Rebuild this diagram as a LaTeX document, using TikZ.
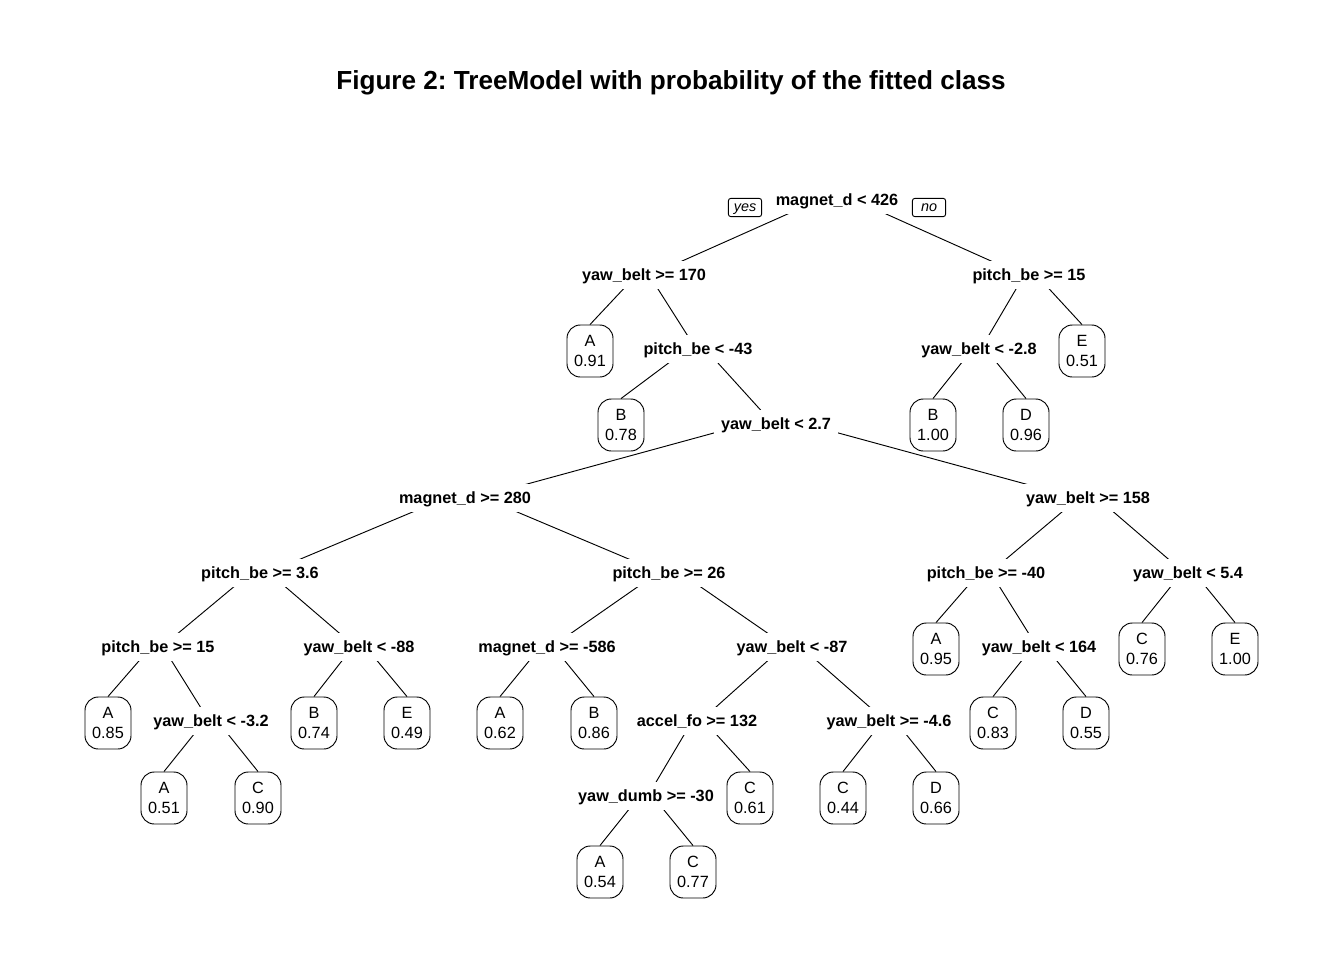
\documentclass[tikz,border=0pt]{standalone}
\usepackage{fontspec}
\setmainfont{Liberation Sans}
\frenchspacing
\pgfdeclarelayer{paper}
\pgfdeclarelayer{background}
\pgfsetlayers{paper,background,main}
\begin{document}
\begin{tikzpicture}[x=0.75pt,y=-0.75pt,
  split/.style={fill=white, inner xsep=5pt, inner ysep=0pt, minimum height=21pt,
    text height=8.8pt, text depth=0pt, font=\fontsize{12.2pt}{14pt}\selectfont\bfseries},
  leaf/.style={draw, rounded corners=10pt, fill=white, minimum width=34.5pt,
    minimum height=39pt, inner sep=0pt, align=center, line width=0.7pt,
    font=\fontsize{12.2pt}{14.5pt}\selectfont},
  tag/.style={draw, rounded corners=2pt, inner xsep=3pt, inner ysep=2pt,
    minimum width=25pt, text height=7.6pt, text depth=2.2pt, line width=0.7pt,
    font=\fontsize{10.8pt}{12pt}\selectfont\itshape},
  edge/.style={line width=0.7pt}]
\begin{pgfonlayer}{paper}
\fill[white] (0,0) rectangle (1344,960);
\end{pgfonlayer}
\useasboundingbox (0,0) rectangle (1344,960);

\node[anchor=base, font=\fontsize{19.6pt}{22pt}\selectfont\bfseries] (title) at (671,89.4)
  {Figure 2: TreeModel with probability of the fitted class};

% split nodes
\node[split] (root) at (837,200) {magnet\_d < 426};
\node[tag] (yes) at (745,207.5) {yes};
\node[tag] (no) at (929,207.5) {no};
\node[split] (n2) at (644,275) {yaw\_belt >= 170};
\node[split] (n3) at (1029,275) {pitch\_be >= 15};
\node[split] (n5) at (698,349) {pitch\_be < -43};
\node[split] (n6) at (979,349) {yaw\_belt < -2.8};
\node[split] (n11) at (776,424) {yaw\_belt < 2.7};
\node[split] (n22) at (465,498) {magnet\_d >= 280};
\node[split] (n23) at (1088,498) {yaw\_belt >= 158};
\node[split] (n44) at (260,573) {pitch\_be >= 3.6};
\node[split] (n45) at (669,573) {pitch\_be >= 26};
\node[split] (n46) at (986,573) {pitch\_be >= -40};
\node[split] (n47) at (1188,573) {yaw\_belt < 5.4};
\node[split] (n88) at (158,647) {pitch\_be >= 15};
\node[split] (n89) at (359,647) {yaw\_belt < -88};
\node[split] (n90) at (547,647) {magnet\_d >= -586};
\node[split] (n91) at (792,647) {yaw\_belt < -87};
\node[split] (n93) at (1039,647) {yaw\_belt < 164};
\node[split] (n177) at (211,721) {yaw\_belt < -3.2};
\node[split] (n182) at (697,721) {accel\_fo >= 132};
\node[split] (n183) at (889,721) {yaw\_belt >= -4.6};
\node[split] (n364) at (646,796) {yaw\_dumb >= -30};

% leaves
\node[leaf] (l4) at (590,351) {A\\0.91};
\node[leaf] (l7) at (1082,351) {E\\0.51};
\node[leaf] (l10) at (621,425) {B\\0.78};
\node[leaf] (l12) at (933,425) {B\\1.00};
\node[leaf] (l13) at (1026,425) {D\\0.96};
\node[leaf] (l92) at (936,649) {A\\0.95};
\node[leaf] (l94) at (1142,649) {C\\0.76};
\node[leaf] (l95) at (1235,649) {E\\1.00};
\node[leaf] (l176) at (108,723) {A\\0.85};
\node[leaf] (l178) at (314,723) {B\\0.74};
\node[leaf] (l179) at (407,723) {E\\0.49};
\node[leaf] (l180) at (500,723) {A\\0.62};
\node[leaf] (l181) at (594,723) {B\\0.86};
\node[leaf] (l186) at (993,723) {C\\0.83};
\node[leaf] (l187) at (1086,723) {D\\0.55};
\node[leaf] (l354) at (164,798) {A\\0.51};
\node[leaf] (l355) at (258,798) {C\\0.90};
\node[leaf] (l365) at (750,798) {C\\0.61};
\node[leaf] (l366) at (843,798) {C\\0.44};
\node[leaf] (l367) at (936,798) {D\\0.66};
\node[leaf] (l728) at (600,872) {A\\0.54};
\node[leaf] (l729) at (693,872) {C\\0.77};

\begin{pgfonlayer}{background}
% split -> split
\foreach \p/\c in {root/n2, root/n3, n2/n5, n3/n6, n5/n11, n11/n22, n11/n23,
  n22/n44, n22/n45, n23/n46, n23/n47, n44/n88, n44/n89, n45/n90, n45/n91,
  n46/n93, n88/n177, n91/n182, n91/n183, n182/n364}
  \draw[edge] ([yshift=6pt]\p.center) -- ([yshift=-2.25pt]\c.center);
% split -> leaf
\foreach \p/\c in {n2/l4, n3/l7, n5/l10, n6/l12, n6/l13, n46/l92, n47/l94,
  n47/l95, n88/l176, n89/l178, n89/l179, n90/l180, n90/l181, n93/l186,
  n93/l187, n177/l354, n177/l355, n182/l365, n183/l366, n183/l367,
  n364/l728, n364/l729}
  \draw[edge] ([yshift=6pt]\p.center) -- (\c.north);
\end{pgfonlayer}
\end{tikzpicture}
\end{document}
